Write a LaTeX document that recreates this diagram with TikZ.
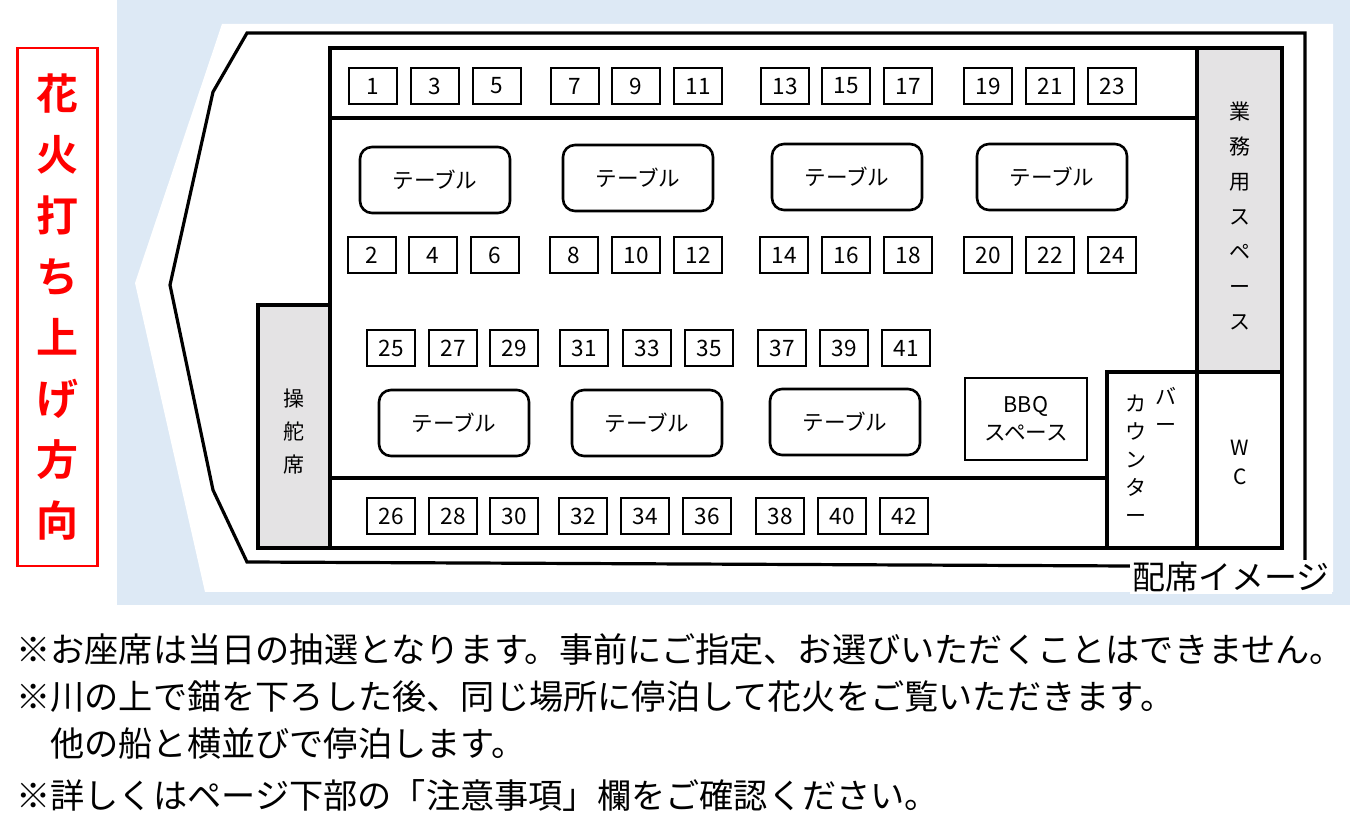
\documentclass[tikz,border=0pt]{standalone}
\usepackage{fontspec}
\setmainfont{Noto Sans CJK JP}
\newfontfamily\jpb{Noto Sans CJK JP Bold}
\definecolor{bgblue}{HTML}{DDE9F5}
\definecolor{gry}{HTML}{E4E3E4}
\begin{document}
\begin{tikzpicture}[x=0.5pt,y=-0.5pt,
  seat/.style={draw,line width=0.6pt,minimum width=24pt,minimum height=18pt,inner sep=0pt,font=\fontsize{11.3}{12}\selectfont},
  tbl/.style={draw,line width=1.3pt,rounded corners=6pt,minimum width=75pt,minimum height=33pt,font=\fontsize{10.8}{12}\selectfont},
  wall/.style={line width=1.8pt},
  lab/.style={align=center,inner sep=0pt},
  note/.style={anchor=west,inner sep=0pt,font=\fontsize{17.1}{18}\selectfont}]
\useasboundingbox (0,0) rectangle (1350,833);
\fill[bgblue] (117,0) rectangle (1350,605);
\fill[white] (222,24) -- (1333,24) -- (1333,592) -- (205,592) -- (135,283) -- cycle;
% hull
\draw[line width=1.6pt] (1130,566) -- (1305,566) -- (1305,33) -- (247,33) -- (213,92) -- (170,285) -- (213,490) -- (247,562) -- (1130,566);
% cabin
\fill[gry] (258,305) rectangle (330,548);
\fill[gry] (1197,48) rectangle (1282,372);
\draw[wall] (330,48) rectangle (1282,548);
\draw[wall] (258,305) rectangle (330,548);
\draw[wall] (330,118) -- (1197,118);
\draw[wall] (330,478) -- (1107,478);
\draw[wall] (1197,48) -- (1197,548);
\draw[wall] (1107,548) -- (1107,372) -- (1282,372);
% labels
\node[lab,font=\fontsize{10.5}{16.5}\selectfont] (steer) at (294,432) {操\\舵\\席};
\node[lab,font=\fontsize{10.5}{17.5}\selectfont] (work) at (1240,216) {業\\務\\用\\ス\\ペ\\ー\\ス};
\node[lab,font=\fontsize{10.5}{14}\selectfont] (bar1) at (1166,410) {バ\\ー};
\node[lab,font=\fontsize{10.5}{14}\selectfont] (bar2) at (1136,459) {カ\\ウ\\ン\\タ\\ー};
\node[lab,font=\fontsize{10.5}{14.5}\selectfont] (wc) at (1240,462) {W\\C};
% seats
\foreach \n/\x in {1/373,3/435,5/497,7/575,9/636,11/698,13/785,15/846,17/908,19/988,21/1050,23/1112}
  \node[seat] (s\n) at (\x,86) {\n};
\foreach \n/\x in {2/372,4/433,6/495,8/574,10/636,12/698,14/784,16/846,18/908,20/988,22/1050,24/1112}
  \node[seat] (s\n) at (\x,255) {\n};
\foreach \n/\x in {25/391,27/453,29/514,31/584,33/647,35/709,37/782,39/844,41/906}
  \node[seat] (s\n) at (\x,348) {\n};
\foreach \n/\x in {26/391,28/453,30/514,32/583,34/645,36/707,38/780,40/842,42/904}
  \node[seat] (s\n) at (\x,516) {\n};
% tables
\foreach \i/\x/\y in {1/435/180,2/638/178,3/847/177,4/1052/177,5/454/423,6/647/423,7/845/422}
  \node[tbl] (t\i) at (\x,\y) {テーブル};
\node[draw,line width=1.3pt,minimum width=61pt,minimum height=41pt,align=center,inner sep=0pt,font=\fontsize{10.8}{14}\selectfont] (bbq) at (1026,419) {BBQ\\スペース};
% title
\node[draw=red,line width=1.2pt,minimum width=40pt,minimum height=259pt,inner sep=0pt,text=red,align=center,font=\jpb\fontsize{21}{30.5}\selectfont] (title) at (57.5,307) {花\\火\\打\\ち\\上\\げ\\方\\向};
\node[fill=white,inner sep=1pt,anchor=west,font=\fontsize{16.5}{18}\selectfont] (img) at (1130,577) {配席イメージ};
% notes
\node[note] (n1) at (16,650) {※お座席は当日の抽選となります。事前にご指定、お選びいただくことはできません。};
\node[note] (n2) at (16,697) {※川の上で錨を下ろした後、同じ場所に停泊して花火をご覧いただきます。};
\node[note] (n3) at (50,744) {他の船と横並びで停泊します。};
\node[note] (n4) at (16,796) {※詳しくはページ下部の「注意事項」欄をご確認ください。};
\end{tikzpicture}
\end{document}
